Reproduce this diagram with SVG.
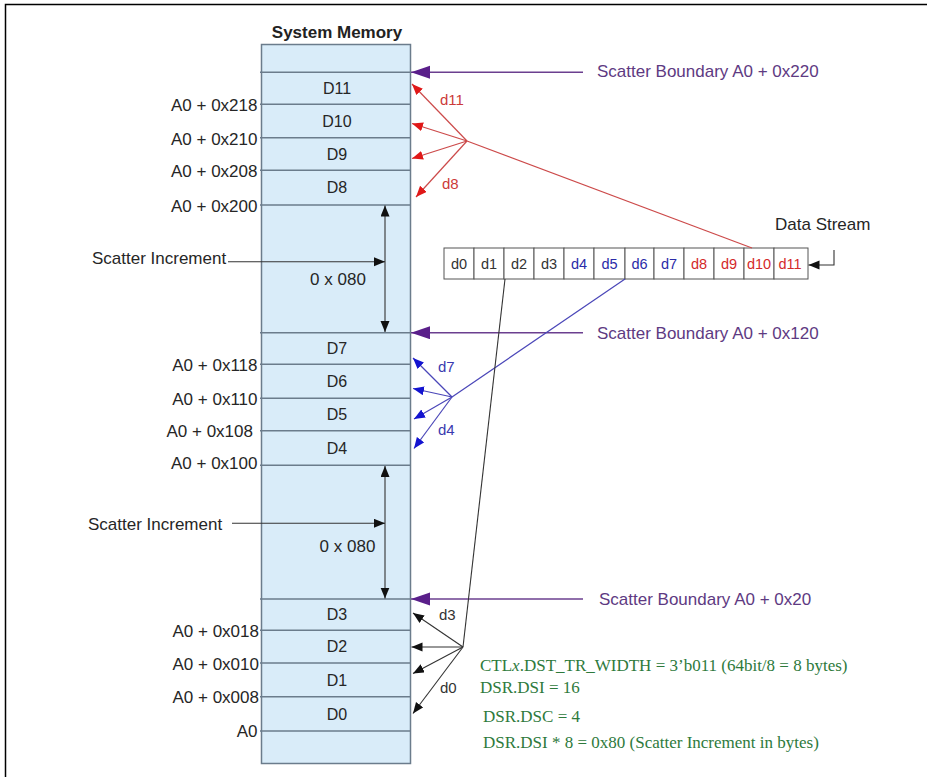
<svg xmlns="http://www.w3.org/2000/svg" width="927" height="777" viewBox="0 0 927 777">
<style>
.sans{font-family:"Liberation Sans",Arial,sans-serif;}
.lbl{font-family:"Liberation Sans",Arial,sans-serif;font-size:17px;fill:#262626;}
.addr{font-family:"Liberation Sans",Arial,sans-serif;font-size:17px;fill:#262626;text-anchor:end;}
.dl{font-family:"Liberation Sans",Arial,sans-serif;font-size:16px;fill:#262626;text-anchor:middle;}
.bnd{font-family:"Liberation Sans",Arial,sans-serif;font-size:17px;fill:#5e3a82;}
.cell{fill:#ffffff;stroke:#555;stroke-width:1;}
.ct{font-family:"Liberation Sans",Arial,sans-serif;font-size:14.5px;text-anchor:middle;}
.grn{font-family:"Liberation Serif","Times New Roman",serif;font-size:17px;fill:#2e7a3c;}
.mline{stroke:#6b7c8c;stroke-width:1.5;fill:none;}
.red{stroke:#cc4a4a;stroke-width:1.2;fill:none;}
.blue{stroke:#4a46b8;stroke-width:1.2;fill:none;}
.blk{stroke:#333;stroke-width:1.1;fill:none;}
.purp{stroke:#6b3f8f;stroke-width:1.5;fill:none;}
</style>
<defs>
<marker id="mP" markerUnits="userSpaceOnUse" markerWidth="20" markerHeight="14" refX="19" refY="6.5" orient="auto"><path d="M0,0 L19,6.5 L0,13 z" fill="#5a1f8a"/></marker>
<marker id="mR" markerUnits="userSpaceOnUse" markerWidth="12" markerHeight="10" refX="11" refY="4.5" orient="auto"><path d="M0,0 L11,4.5 L0,9 z" fill="#e01818"/></marker>
<marker id="mB" markerUnits="userSpaceOnUse" markerWidth="12" markerHeight="10" refX="11" refY="4.5" orient="auto"><path d="M0,0 L11,4.5 L0,9 z" fill="#1414d0"/></marker>
<marker id="mK" markerUnits="userSpaceOnUse" markerWidth="12" markerHeight="10" refX="11" refY="4.5" orient="auto-start-reverse"><path d="M0,0 L11,4.5 L0,9 z" fill="#111"/></marker>
</defs>
<rect width="927" height="777" fill="#ffffff"/>
<path d="M5.5,777 V4.5 H927" fill="none" stroke="#000" stroke-width="1.5"/>

<g id="memory">
<rect x="261.5" y="44.5" width="149" height="719" fill="#d9ecf9" stroke="#6b7c8c" stroke-width="1.5"/>
<text class="sans" x="337" y="37.5" font-size="17" font-weight="bold" fill="#222" text-anchor="middle">System Memory</text>
<path class="mline" d="M260,72.3 H410.5 M260,104.3 H410.5 M260,137.7 H410.5 M260,170.3 H410.5 M260,205 H410.5 M260,332.7 H410.5 M260,364.3 H410.5 M260,398.3 H410.5 M260,430.7 H410.5 M260,465.3 H410.5 M260,599 H410.5 M260,630.3 H410.5 M260,663 H410.5 M260,696.7 H410.5 M260,731 H410.5"/>
<text class="dl" x="337" y="94">D11</text>
<text class="dl" x="337" y="126.7">D10</text>
<text class="dl" x="337" y="159.7">D9</text>
<text class="dl" x="337" y="193.3">D8</text>
<text class="dl" x="337" y="354.2">D7</text>
<text class="dl" x="337" y="387">D6</text>
<text class="dl" x="337" y="420.2">D5</text>
<text class="dl" x="337" y="453.7">D4</text>
<text class="dl" x="337" y="620.4">D3</text>
<text class="dl" x="337" y="652.4">D2</text>
<text class="dl" x="337" y="685.5">D1</text>
<text class="dl" x="337" y="719.5">D0</text>
</g>

<g id="addresses">
<text class="addr" x="257.5" y="111.3">A0 + 0x218</text>
<text class="addr" x="257.5" y="144.5">A0 + 0x210</text>
<text class="addr" x="257.5" y="177.3">A0 + 0x208</text>
<text class="addr" x="257.5" y="212">A0 + 0x200</text>
<text class="addr" x="257.5" y="370.8">A0 + 0x118</text>
<text class="addr" x="257.5" y="404.8">A0 + 0x110</text>
<text class="addr" x="253" y="437">A0 + 0x108</text>
<text class="addr" x="257.5" y="469">A0 + 0x100</text>
<text class="addr" x="259" y="637">A0 + 0x018</text>
<text class="addr" x="259" y="669.5">A0 + 0x010</text>
<text class="addr" x="259" y="703">A0 + 0x008</text>
<text class="addr" x="257.5" y="737">A0</text>
</g>

<g id="boundaries">
<text class="bnd" x="597" y="77.2">Scatter Boundary A0 + 0x220</text>
<text class="bnd" x="597" y="339">Scatter Boundary A0 + 0x120</text>
<text class="bnd" x="599" y="604.8">Scatter Boundary A0 + 0x20</text>
</g>

<g id="increments">
<text class="lbl" x="92" y="264.3">Scatter Increment</text>
<text class="lbl" x="338" y="285" text-anchor="middle">0 x 080</text>
<text class="lbl" x="88" y="530">Scatter Increment</text>
<text class="lbl" x="347.5" y="551.7" text-anchor="middle">0 x 080</text>
</g>

<g id="data-stream">
<text class="lbl" x="775" y="230">Data Stream</text>
<rect class="cell" x="444" y="248" width="30" height="31"/>
<rect class="cell" x="474" y="248" width="30" height="31"/>
<rect class="cell" x="504" y="248" width="30" height="31"/>
<rect class="cell" x="534" y="248" width="30" height="31"/>
<rect class="cell" x="564" y="248" width="30" height="31"/>
<rect class="cell" x="594" y="248" width="31" height="31"/>
<rect class="cell" x="625" y="248" width="29" height="31"/>
<rect class="cell" x="654" y="248" width="30" height="31"/>
<rect class="cell" x="684" y="248" width="30" height="31"/>
<rect class="cell" x="714" y="248" width="30" height="31"/>
<rect class="cell" x="744" y="248" width="30" height="31"/>
<rect class="cell" x="774" y="248" width="34" height="31"/>
<g class="ct" fill="#333">
<text x="459" y="268.5">d0</text><text x="489" y="268.5">d1</text><text x="519" y="268.5">d2</text><text x="549" y="268.5">d3</text>
</g>
<g class="ct" fill="#2b2ba8">
<text x="579" y="268.5">d4</text><text x="609.5" y="268.5">d5</text><text x="639.5" y="268.5">d6</text><text x="669" y="268.5">d7</text>
</g>
<g class="ct" fill="#d42a2a">
<text x="699" y="268.5">d8</text><text x="729" y="268.5">d9</text><text x="759" y="268.5">d10</text><text x="790" y="268.5">d11</text>
</g>
</g>

<g id="connectors">
<path class="purp" d="M583,72.3 H411" marker-end="url(#mP)"/>
<path class="purp" d="M583,332.7 H411" marker-end="url(#mP)"/>
<path class="purp" d="M583,599 H411" marker-end="url(#mP)"/>

<path class="red" d="M752,248 L467,141"/>
<path class="red" d="M467,141 L412,84" marker-end="url(#mR)"/>
<path class="red" d="M467,141 L412,123.5" marker-end="url(#mR)"/>
<path class="red" d="M467,141 L412,158.5" marker-end="url(#mR)"/>
<path class="red" d="M467,141 L416,197" marker-end="url(#mR)"/>

<path class="blue" d="M625,279 L452,397"/>
<path class="blue" d="M452,397 L413,358" marker-end="url(#mB)"/>
<path class="blue" d="M452,397 L413,388.5" marker-end="url(#mB)"/>
<path class="blue" d="M452,397 L414,419" marker-end="url(#mB)"/>
<path class="blue" d="M452,397 L414,448.5" marker-end="url(#mB)"/>

<path class="blk" d="M505,279 L463,647"/>
<path class="blk" d="M463,647 L413,613" marker-end="url(#mK)"/>
<path class="blk" d="M463,647 L411.5,647" marker-end="url(#mK)"/>
<path class="blk" d="M463,647 L413,673.5" marker-end="url(#mK)"/>
<path class="blk" d="M463,647 L413,713.5" marker-end="url(#mK)"/>

<path class="blk" d="M385,205.5 V332" marker-start="url(#mK)" marker-end="url(#mK)"/>
<path class="blk" d="M385,466 V598.5" marker-start="url(#mK)" marker-end="url(#mK)"/>
<path class="blk" d="M228,261.7 H385" marker-end="url(#mK)"/>
<path class="blk" d="M232,523.3 H385" marker-end="url(#mK)"/>
<path class="blk" d="M834,250 V265 H808.5" marker-end="url(#mK)"/>
</g>

<g id="arrow-labels" class="sans" font-size="15">
<text x="440" y="104.8" fill="#cc3a3a">d11</text>
<text x="442" y="188.8" fill="#cc3a3a">d8</text>
<text x="438" y="372" fill="#3a3ab0">d7</text>
<text x="438" y="434.6" fill="#3a3ab0">d4</text>
<text x="439" y="620.3" fill="#333">d3</text>
<text x="440" y="692.6" fill="#333">d0</text>
</g>

<g id="notes" class="grn">
<text x="480" y="670.7">CTL<tspan font-style="italic">x</tspan>.DST_TR_WIDTH = 3’b011 (64bit/8 = 8 bytes)</text>
<text x="480" y="693.3">DSR.DSI = 16</text>
<text x="483" y="721.7">DSR.DSC = 4</text>
<text x="483" y="747.7">DSR.DSI * 8 = 0x80 (Scatter Increment in bytes)</text>
</g>
</svg>
